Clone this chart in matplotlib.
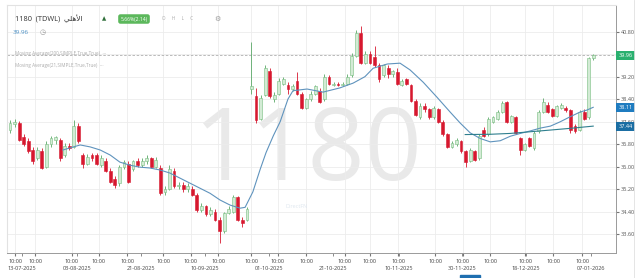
import numpy as np
import matplotlib
matplotlib.use("Agg")
import matplotlib.pyplot as plt
from matplotlib import transforms
from matplotlib.patches import Rectangle

plt.rcParams["font.family"] = ["Open Sans", "DejaVu Sans"]

# daily candles, 13-07-2025 .. 07-01-2026
opens = [37.30, 37.50, 37.55, 37.05, 36.90, 36.60, 36.30, 36.55, 36.00, 36.80,
         36.95, 36.95, 36.40, 36.75, 36.70, 37.45, 36.40, 36.10, 36.40, 36.40,
         36.05, 36.20, 35.85, 35.55, 35.40, 36.00, 36.10, 35.90, 36.20, 36.05,
         36.20, 36.30, 36.00, 35.95, 35.10, 35.20, 35.85, 35.30, 35.35, 35.20,
         35.20, 35.00, 34.45, 34.60, 34.30, 34.40, 34.10, 33.70, 34.35, 34.40,
         34.90, 34.10, 34.10, 38.75, 38.50, 37.70, 38.55, 39.40, 38.40, 38.60,
         38.95, 38.90, 38.75, 39.05, 38.60, 38.10, 38.40, 38.60, 38.70, 38.40,
         39.20, 38.90, 38.95, 38.90, 38.95, 39.25, 39.95, 40.75, 39.70, 40.00,
         39.90, 39.60, 39.25, 39.50, 39.30, 39.35, 38.90, 39.10, 38.90, 38.35,
         37.75, 38.15, 38.05, 37.75, 38.05, 37.60, 37.15, 36.70, 36.80, 36.90,
         36.55, 36.20, 36.55, 36.30, 37.30, 37.15, 37.60, 37.70, 37.95, 38.30,
         37.60, 37.75, 37.00, 36.60, 37.00, 36.65, 37.25, 37.95, 38.20, 38.05,
         37.80, 38.10, 38.10, 38.00, 37.45, 37.30, 37.95, 37.75, 39.85]
highs = [37.66, 37.68, 37.62, 37.15, 37.00, 36.70, 36.70, 36.65, 36.90, 37.10,
         37.10, 37.00, 36.85, 36.85, 37.65, 37.55, 36.50, 36.45, 36.50, 36.50,
         36.40, 36.30, 35.95, 35.65, 36.05, 36.25, 36.20, 36.25, 36.30, 36.30,
         36.40, 36.35, 36.35, 36.05, 35.30, 36.05, 35.95, 35.45, 35.45, 35.40,
         35.30, 35.05, 34.70, 34.65, 34.55, 34.50, 34.20, 34.40, 34.60, 35.00,
         34.95, 34.20, 34.55, 40.45, 38.80, 38.55, 39.60, 39.50, 38.65, 39.15,
         39.20, 39.00, 38.95, 39.35, 38.65, 38.45, 38.70, 38.90, 38.80, 39.30,
         39.25, 39.00, 39.00, 39.00, 39.30, 40.05, 40.85, 41.00, 40.10, 40.10,
         40.30, 39.70, 39.65, 39.60, 39.45, 39.50, 39.10, 39.15, 38.95, 38.40,
         38.25, 38.25, 38.10, 38.15, 38.10, 37.65, 37.20, 36.90, 37.00, 36.95,
         36.60, 36.65, 36.60, 37.15, 37.40, 37.75, 37.80, 38.00, 38.35, 38.35,
         37.85, 37.80, 37.05, 36.85, 37.05, 37.25, 38.00, 38.45, 38.30, 38.10,
         38.20, 38.25, 38.15, 38.05, 37.50, 38.00, 38.05, 39.90, 40.00]
lows = [37.20, 37.40, 36.90, 36.75, 36.50, 36.10, 36.25, 35.90, 35.95, 36.70,
        36.80, 36.20, 36.35, 36.60, 36.65, 36.85, 35.95, 36.05, 36.20, 36.05,
        36.00, 35.80, 35.40, 35.25, 35.30, 35.90, 35.40, 35.85, 36.00, 36.00,
        36.10, 35.95, 35.95, 35.00, 35.00, 35.15, 35.25, 35.20, 35.10, 35.10,
        34.95, 34.40, 34.40, 34.25, 34.25, 34.05, 33.28, 33.65, 34.30, 34.35,
        34.05, 33.85, 34.05, 38.60, 37.55, 37.65, 38.50, 38.45, 38.30, 38.55,
        38.90, 38.60, 38.70, 38.55, 38.05, 38.05, 38.35, 38.55, 38.25, 38.35,
        38.90, 38.85, 38.85, 38.85, 38.90, 39.20, 39.90, 39.65, 39.65, 39.65,
        39.55, 39.00, 39.20, 39.15, 39.20, 38.90, 38.85, 38.90, 38.30, 37.80,
        37.70, 37.95, 37.70, 37.70, 37.55, 37.10, 36.65, 36.65, 36.75, 36.50,
        36.00, 36.15, 36.20, 36.25, 37.05, 37.10, 37.55, 37.65, 37.90, 37.55,
        37.55, 37.15, 36.40, 36.55, 36.70, 36.60, 37.20, 37.90, 37.90, 37.75,
        37.75, 38.05, 37.95, 37.20, 37.20, 37.25, 37.65, 37.70, 39.80]
closes = [37.55, 37.60, 36.95, 36.80, 36.55, 36.20, 36.60, 35.95, 36.80, 37.00,
          37.05, 36.30, 36.75, 36.65, 37.45, 36.90, 36.10, 36.35, 36.30, 36.10,
          36.30, 35.85, 35.45, 35.35, 36.00, 36.15, 35.45, 36.20, 36.05, 36.20,
          36.30, 36.00, 36.25, 35.05, 35.20, 35.90, 35.30, 35.35, 35.20, 35.30,
          35.00, 34.45, 34.60, 34.30, 34.45, 34.10, 33.70, 34.35, 34.50, 34.90,
          34.10, 34.00, 34.50, 38.85, 37.65, 38.45, 39.50, 38.50, 38.55, 39.05,
          39.10, 38.75, 38.85, 38.60, 38.10, 38.40, 38.60, 38.85, 38.30, 39.20,
          38.95, 38.95, 38.90, 38.95, 39.20, 39.95, 40.75, 39.70, 40.00, 39.70,
          39.60, 39.10, 39.60, 39.30, 39.40, 38.95, 39.05, 38.95, 38.35, 37.85,
          38.15, 38.05, 37.75, 38.10, 37.60, 37.15, 36.70, 36.85, 36.95, 36.55,
          36.15, 36.60, 36.25, 37.10, 37.10, 37.70, 37.75, 37.95, 38.25, 37.60,
          37.80, 37.20, 36.60, 36.80, 36.75, 37.20, 37.95, 38.30, 37.95, 37.80,
          38.15, 38.20, 38.00, 37.30, 37.25, 37.95, 37.70, 39.85, 39.96]

# moving averages (candle index, value)
ma21_idx = [11.6, 15.4, 17.6, 19.8, 22.0, 24.1, 26.3, 28.5, 30.7, 32.9, 35.1,
            37.3, 39.5, 41.7, 43.9, 46.1, 48.3, 50.5, 51.6, 53.3, 54.9, 56.2,
            57.8, 59.3, 61.0, 62.1, 65.2, 68.7, 72.4, 75.3, 77.9, 79.7, 82.8,
            85.6, 87.8, 90.7, 93.7, 96.6, 98.8, 101.0, 103.2, 105.4, 107.6,
            109.8, 112.0, 114.2, 116.4, 118.6, 120.7, 122.9, 125.1, 126.6, 128.0]
ma21_val = [36.59, 36.77, 36.70, 36.59, 36.41, 36.16, 36.05, 35.98, 35.95, 35.88,
            35.77, 35.59, 35.41, 35.23, 35.05, 34.81, 34.63, 34.52, 34.55, 35.10,
            35.90, 36.50, 37.10, 37.60, 38.40, 38.70, 38.76, 38.65, 38.80, 38.97,
            39.20, 39.50, 39.65, 39.68, 39.44, 39.00, 38.47, 37.94, 37.55, 37.20,
            37.00, 36.88, 36.92, 37.08, 37.18, 37.27, 37.37, 37.44, 37.59, 37.77,
            37.94, 38.01, 38.11]
ma200_idx = [99.9, 105.4, 109.8, 114.2, 118.6, 122.9, 128.0]
ma200_val = [37.14, 37.15, 37.18, 37.24, 37.30, 37.36, 37.44]

last_price = 39.96
y_ticks = [33.60, 34.40, 35.20, 36.00, 36.80, 37.60, 38.40, 39.20, 40.00, 40.80]
time_ticks = [1.1, 5.5, 13.6, 19.5, 25.7, 33.6, 39.7, 45.7, 52.9, 58.8, 65.0,
              73.5, 79.0, 85.2, 93.3, 99.4, 105.4, 113.1, 119.2, 125.6]
date_ticks = [2.6, 14.7, 28.8, 42.8, 56.9, 70.9, 85.4, 99.2, 113.3, 127.6]
date_labels = ["13-07-2025", "03-08-2025", "21-08-2025", "10-09-2025", "01-10-2025",
               "21-10-2025", "10-11-2025", "30-11-2025", "18-12-2025", "07-01-2026"]

W, H = 640, 278
fig = plt.figure(figsize=(W / 100, H / 100), dpi=100)
ax = fig.add_axes([7 / W, 25 / H, 609 / W, 248 / H])

o = np.array(opens); h = np.array(highs); l = np.array(lows); c = np.array(closes)
idx = np.arange(len(o))
up = c >= o
face = np.where(up, "#d3ebd5", "#d7182f")
edge = np.where(up, "#78bd80", "#d7182f")
wick = np.where(up, "#5aa867", "#d7182f")

# watermark
ax.text(0.494, 0.40, "1180", transform=ax.transAxes, ha="center", va="center",
        fontsize=72, color="#e9e9e9", zorder=0)

ax.vlines(idx, l, h, colors=wick, linewidth=0.6, zorder=2)
ax.bar(idx, np.maximum(np.abs(c - o), 0.02), bottom=np.minimum(o, c), width=0.62,
       color=face, edgecolor=edge, linewidth=0.4, zorder=3)

ax.plot(ma21_idx, ma21_val, color="#5f93bd", linewidth=0.8, zorder=4)
ax.plot(ma200_idx, ma200_val, color="#2f7f8e", linewidth=0.8, zorder=4)
ax.axhline(last_price, color="#b0b0b0", linestyle=(0, (3, 2)), linewidth=0.6, zorder=1)

ax.set_xlim(-0.66, 133.0)
ax.set_ylim(32.925, 41.75)

ax.yaxis.tick_right()
ax.set_yticks(y_ticks)
# 40.00 sits under the last-price badge
ax.set_yticklabels(["" if v == 40.00 else "%.2f" % v for v in y_ticks])
ax.set_xticks(time_ticks)
ax.set_xticklabels(["10:00"] * len(time_ticks))
ax.set_xticks(date_ticks, minor=True)
ax.set_xticklabels(date_labels, minor=True)
ax.tick_params(axis="y", labelsize=4, length=2, pad=1.5, colors="#777", labelcolor="#555")
ax.tick_params(axis="x", which="major", labelsize=4, length=2, pad=2, colors="#777",
               labelcolor="#444")
ax.tick_params(axis="x", which="minor", labelsize=4, length=2, pad=7.5, colors="#777",
               labelcolor="#444")
ax.grid(True, which="major", color="#ececec", linewidth=0.6, zorder=0)
ax.set_axisbelow(True)
for s in ["left", "top"]:
    ax.spines[s].set_color("#e2e2e2")
for s in ["right", "bottom"]:
    ax.spines[s].set_color("#9a9a9a")
    ax.spines[s].set_linewidth(0.7)

# price badges on the right axis
blend = transforms.blended_transform_factory(ax.transAxes, ax.transData)
for val, col in [(last_price, "#2ab06f"), (ma21_val[-1], "#1f7cc0"), (ma200_val[-1], "#1b6ea3")]:
    ax.text(1.004, val, "%.2f" % val, transform=blend, ha="left", va="center",
            fontsize=4, color="white", zorder=6, clip_on=False,
            bbox=dict(boxstyle="square,pad=0.35", fc=col, ec="none"))

# header
def px(x, y):
    return x / W, 1 - y / H

arabic = "\uFEF2\uFEE0\uFEEB\uFEF7\uFE8D"
fig.text(*px(15, 19), "1180  (TDWL)  " + arabic, fontsize=5.3, color="#333",
         va="center", ha="left")
fig.text(*px(104, 19), "\u25B2", fontsize=4, color="#2f6f3a", va="center", ha="center")
fig.text(*px(134, 19), "5.66%(2.14)", fontsize=3.6, color="white", va="center",
         ha="center", bbox=dict(boxstyle="round,pad=0.45", fc="#5cb85c", ec="none"))
fig.text(*px(162, 19), "O     H     L     C", fontsize=3.3, color="#aaa", va="center", ha="left")
fig.text(*px(217, 19), "\u2699", fontsize=5, color="#999", va="center", ha="center")
fig.text(*px(13, 33), "39.96", fontsize=4.5, color="#4a8fc4", va="center", ha="left")
fig.text(*px(43, 33), "\u25F7", fontsize=5, color="#999", va="center", ha="center")
fig.text(*px(15, 53), "Moving Average(200,SIMPLE,True,True)  \u00B7\u00B7\u00B7", fontsize=3.3,
         color="#aaa", va="center", ha="left")
fig.text(*px(15, 66), "Moving Average(21,SIMPLE,True,True)  \u00B7\u00B7\u00B7", fontsize=3.3,
         color="#aaa", va="center", ha="left")
fig.text(*px(285, 207), "DirectFN", fontsize=4, color="#dfe7ef", va="center", ha="left")

fig.add_artist(Rectangle((460 / W, 0), 20 / W, 3 / H, transform=fig.transFigure,
                         color="#1f6fb0"))
fig.add_artist(plt.Line2D([634 / W, 634 / W], [0, 1], transform=fig.transFigure,
                          color="#e0e0e0", linewidth=0.6))

fig.savefig("out.png", dpi=100)
